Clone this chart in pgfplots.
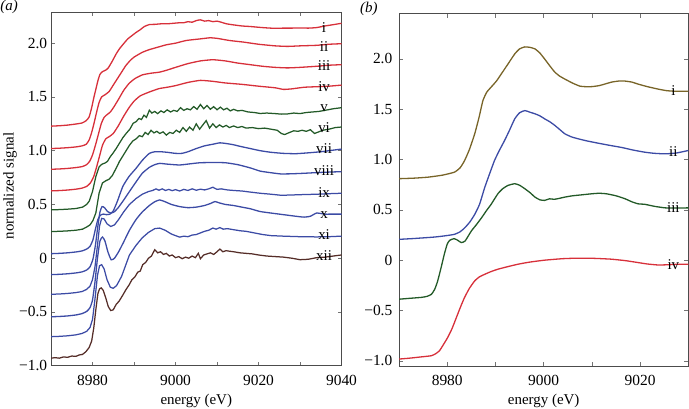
\documentclass[border=0pt]{standalone}
\usepackage{pgfplots}
\pgfplotsset{compat=1.18}
\usepackage{fontspec}
\setmainfont{Liberation Serif}
\definecolor{cred}{RGB}{215,48,58}
\definecolor{cgreen}{RGB}{35,90,40}
\definecolor{cblue}{RGB}{60,75,165}
\definecolor{cbrown}{RGB}{85,45,40}
\definecolor{colive}{RGB}{120,100,40}
\pgfplotsset{
  myaxis/.style={
    scale only axis,
    anchor=south west,
    tick align=inside, xtick pos=both, ytick pos=both,
    major tick length=4bp, minor tick length=4bp,
    axis line style={draw=black!70, line width=0.6bp},
    every tick/.style={draw=black!55, line width=0.5bp},
    tick label style={font=\fontsize{15.5}{18}\selectfont},
    label style={font=\fontsize{15}{18}\selectfont},
    xticklabel style={anchor=base, inner sep=0pt},
    yticklabel style={anchor=east, inner sep=0pt},
    ytick={-1,-0.5,0,0.5,1,1.5,2},
    yticklabels={−1.0,−0.5,0,0.5,1.0,1.5,2.0},
    xlabel={energy (eV)},
    clip=true,
  },
  cl/.style={line width=1.3bp, smooth, tension=0.3},
  nl/.style={line width=1.25bp},
}
\begin{document}
\begin{tikzpicture}[x=1bp,y=1bp]
\useasboundingbox (0,0) rectangle (689,408);
% ---------------- panel (a)
\begin{axis}[myaxis,
  at={(51bp,42.3bp)}, width=290.5bp, height=353.7bp,
  xmin=8970, xmax=9040, ymin=-1, ymax=2.29,
  xtick={8980,9000,9020,9040}, xticklabels={8980,9000,9020,9040},
  minor xtick={8990,9010,9030},
  xticklabel style={yshift=-20bp},
  yticklabel style={xshift=-3.7bp},
  ylabel={normalized signal},
  xlabel style={at={(axis description cs:0.5,-0.1083)}, anchor=base, inner sep=0pt},
  ylabel style={at={(axis description cs:-0.129,0.508)}, anchor=base, inner sep=0pt},
]
% i
\addplot[cred,cl] coordinates {(8970,1.228) (8972,1.232) (8974,1.238) (8976,1.248) (8977.5,1.258) (8978.5,1.28) (8979.2,1.315) (8979.8,1.40) (8980.3,1.49) (8980.8,1.57) (8981.3,1.65) (8981.8,1.71) (8982.4,1.735) (8983.2,1.75) (8983.8,1.77) (8984.8,1.835) (8985.7,1.90) (8986.5,1.948) (8987.5,1.995) (8988.5,2.04) (8989.5,2.07) (8990.5,2.10) (8991.5,2.125) (8992.5,2.155) (8993.7,2.173) (8995,2.175) (8996.5,2.18) (8998,2.18) (8999.5,2.185) (9001,2.19) (9002,2.19) (9003,2.20) (9004,2.195) (9005,2.21) (9006,2.217) (9007,2.205) (9008,2.21) (9009,2.2) (9010,2.205) (9011,2.195) (9012.3,2.18) (9014,2.17) (9016,2.16) (9018,2.155) (9020,2.148) (9022,2.142) (9024,2.138) (9026,2.14) (9028,2.14) (9030,2.142) (9032,2.14) (9034,2.145) (9036,2.16) (9038,2.172) (9040,2.185)};
% ii
\addplot[cred,cl] coordinates {(8970,1.02) (8972,1.023) (8974,1.028) (8976,1.035) (8977.5,1.045) (8978.5,1.06) (8979.2,1.10) (8979.8,1.17) (8980.4,1.26) (8981,1.36) (8981.6,1.45) (8982.2,1.50) (8983,1.52) (8984,1.55) (8985,1.61) (8986,1.67) (8987,1.73) (8988,1.79) (8989,1.835) (8990,1.87) (8992,1.915) (8993.7,1.94) (8995.5,1.96) (8997.8,1.985) (9000,2.0) (9002.6,2.025) (9006,2.04) (9008.3,2.05) (9010,2.045) (9013,2.025) (9016.4,2.01) (9020,1.99) (9024,1.975) (9027,1.97) (9030,1.975) (9034,1.98) (9037,1.99) (9040,1.995)};
% iii
\addplot[cred,cl] coordinates {(8970,0.827) (8972,0.83) (8974,0.835) (8976,0.843) (8977.5,0.852) (8978.5,0.868) (8979.3,0.9) (8980,0.96) (8980.7,1.05) (8981.4,1.15) (8982.1,1.25) (8982.8,1.31) (8983.5,1.335) (8984.3,1.36) (8985.2,1.41) (8986.3,1.48) (8987.5,1.56) (8988.8,1.625) (8990.2,1.67) (8992,1.705) (8994,1.72) (8996.2,1.731) (8998,1.75) (9000,1.775) (9003,1.81) (9006,1.835) (9009,1.846) (9012,1.835) (9015,1.815) (9018,1.80) (9021,1.785) (9024,1.775) (9027,1.77) (9030,1.775) (9034,1.785) (9037,1.795) (9040,1.80)};
% iv
\addplot[cred,cl] coordinates {(8970,0.626) (8972,0.629) (8974,0.634) (8976,0.642) (8977.5,0.652) (8978.6,0.668) (8979.5,0.70) (8980.3,0.76) (8981,0.85) (8981.7,0.95) (8982.4,1.05) (8983.2,1.11) (8984,1.13) (8985,1.16) (8986.2,1.23) (8987.5,1.32) (8988.8,1.40) (8990,1.46) (8991.5,1.51) (8993.7,1.546) (8996,1.577) (8998,1.59) (9000,1.605) (9003,1.635) (9006,1.654) (9009,1.645) (9012,1.63) (9016,1.617) (9020,1.60) (9024,1.585) (9026,1.57) (9028,1.575) (9031,1.59) (9034,1.595) (9037,1.60) (9040,1.61)};
% v
\addplot[cgreen,nl] coordinates {(8970,0.45) (8972,0.452) (8974,0.456) (8976,0.462) (8977.6,0.475) (8978.6,0.50) (8979.2,0.53) (8980,0.62) (8980.8,0.758) (8981.6,0.85) (8982.3,0.875) (8983,0.885) (8983.6,0.90) (8984.3,0.945) (8985,0.98) (8985.7,1.02) (8986.5,1.07) (8987.3,1.12) (8988.1,1.16) (8989,1.2) (8989.8,1.255) (8990.5,1.27) (8991.2,1.30) (8991.8,1.29) (8992.4,1.33) (8993,1.31) (8993.7,1.376) (8994.3,1.35) (8995,1.365) (8995.7,1.345) (8996.5,1.37) (8997.2,1.355) (8998,1.38) (8998.8,1.36) (8999.6,1.375) (9000.4,1.365) (9001.2,1.40) (9002,1.375) (9002.8,1.39) (9003.6,1.38) (9004.4,1.41) (9005.2,1.385) (9006,1.43) (9006.8,1.39) (9007.6,1.42) (9008.4,1.385) (9009.2,1.41) (9010,1.38) (9010.8,1.405) (9011.6,1.38) (9012.4,1.395) (9013.2,1.37) (9014,1.385) (9015,1.37) (9016,1.375) (9017.5,1.36) (9019,1.355) (9020.4,1.346) (9022,1.35) (9024,1.345) (9025.5,1.34) (9027,1.342) (9028.5,1.35) (9030,1.345) (9031.5,1.355) (9033,1.36) (9034.5,1.365) (9036,1.375) (9038,1.39) (9040,1.40)};
% vi
\addplot[cgreen,nl] coordinates {(8970,0.248) (8972,0.25) (8974,0.254) (8976,0.26) (8977.6,0.27) (8978.6,0.29) (8979.4,0.31) (8980.1,0.35) (8980.8,0.42) (8981.6,0.607) (8982.4,0.70) (8983.2,0.72) (8984,0.735) (8984.8,0.77) (8985.6,0.83) (8986.5,0.9) (8987.3,0.95) (8988.1,1.0) (8988.9,1.05) (8989.7,1.09) (8990.5,1.11) (8991.3,1.14) (8992,1.13) (8992.7,1.17) (8993.4,1.15) (8994.1,1.19) (8994.8,1.165) (8995.5,1.18) (8996.2,1.16) (8997,1.175) (8997.8,1.145) (8998.6,1.17) (8999.4,1.16) (9000.2,1.19) (9001,1.17) (9001.8,1.215) (9002.6,1.18) (9003.4,1.22) (9004.2,1.19) (9005,1.25) (9005.8,1.2) (9006.6,1.24) (9007.4,1.28) (9008.2,1.21) (9009,1.25) (9009.8,1.215) (9010.6,1.24) (9011.4,1.22) (9012.2,1.235) (9013,1.215) (9014,1.23) (9015,1.215) (9016,1.225) (9017,1.21) (9018.5,1.215) (9020,1.205) (9021.5,1.21) (9023,1.2) (9024.5,1.19) (9025.5,1.16) (9026.3,1.15) (9027.2,1.165) (9028.5,1.185) (9029.5,1.18) (9030.5,1.19) (9031.5,1.18) (9032.5,1.195) (9033.5,1.16) (9034.5,1.175) (9035.5,1.19) (9037,1.2) (9038.5,1.215) (9040,1.22)};
% vii
\addplot[cblue,cl] coordinates {(8970,0.042) (8972,0.045) (8974,0.05) (8976,0.058) (8977.5,0.068) (8978.6,0.085) (8979.4,0.11) (8980.1,0.17) (8980.7,0.27) (8981.3,0.36) (8981.9,0.40) (8982.6,0.41) (8983.4,0.405) (8984.2,0.41) (8985,0.44) (8986,0.53) (8987.3,0.667) (8988.8,0.76) (8990.5,0.836) (8992,0.91) (8993.7,0.975) (8995,0.99) (8996.5,0.99) (8998,0.985) (9000,0.975) (9001.5,0.975) (9003,0.99) (9005,1.02) (9007,1.045) (9009,1.06) (9010.7,1.073) (9012.5,1.065) (9014,1.055) (9015.6,1.04) (9018,1.02) (9020.4,1.0) (9023,0.985) (9026,0.975) (9029,0.972) (9032,0.98) (9035,0.99) (9038,1.005) (9040,1.015)};
% viii
\addplot[cblue,cl] coordinates {(8970,-0.153) (8972,-0.15) (8974,-0.145) (8976,-0.137) (8977.5,-0.127) (8978.6,-0.11) (8979.4,-0.08) (8980.1,-0.01) (8980.7,0.12) (8981.3,0.30) (8981.8,0.43) (8982.3,0.48) (8982.9,0.47) (8983.6,0.435) (8984.4,0.42) (8985.2,0.43) (8986.2,0.47) (8987.5,0.54) (8988.9,0.62) (8990.5,0.71) (8992,0.79) (8993.7,0.845) (8995,0.87) (8996.2,0.882) (8998,0.875) (9001,0.867) (9004,0.88) (9006,0.888) (9009,0.89) (9012,0.888) (9015,0.87) (9018,0.84) (9020.4,0.81) (9023,0.795) (9025.3,0.784) (9028,0.785) (9031,0.79) (9035,0.798) (9040,0.805)};
% ix
\addplot[cblue,nl] coordinates {(8970,-0.336) (8972,-0.333) (8974,-0.328) (8976,-0.32) (8977.5,-0.31) (8978.6,-0.29) (8979.4,-0.26) (8980,-0.2) (8980.6,-0.08) (8981.2,0.12) (8981.7,0.30) (8982.2,0.37) (8982.8,0.365) (8983.5,0.32) (8984.4,0.295) (8985.3,0.31) (8986.3,0.36) (8987.5,0.43) (8988.9,0.50) (8990.5,0.555) (8992,0.595) (8993.5,0.62) (8994.5,0.63) (8995.3,0.645) (8996,0.632) (8996.8,0.645) (8997.6,0.63) (8998.4,0.64) (8999.2,0.628) (9000,0.638) (9001,0.625) (9002,0.64) (9003,0.63) (9004,0.645) (9005,0.632) (9006,0.642) (9007,0.635) (9008,0.645) (9009,0.66) (9010,0.64) (9011,0.645) (9012.5,0.635) (9014,0.63) (9016,0.625) (9018,0.615) (9020.4,0.604) (9023,0.595) (9025.5,0.585) (9028,0.588) (9031,0.592) (9034,0.595) (9037,0.6) (9040,0.604)};
% x
\addplot[cblue,cl] coordinates {(8970,-0.545) (8972,-0.542) (8974,-0.537) (8976,-0.528) (8977.5,-0.515) (8978.6,-0.495) (8979.4,-0.46) (8980,-0.39) (8980.6,-0.22) (8981.2,0.0) (8981.8,0.16) (8982.4,0.197) (8983,0.16) (8983.7,0.06) (8984.5,-0.015) (8985.3,0.0) (8986.3,0.06) (8987.5,0.15) (8988.9,0.26) (8990.5,0.36) (8992,0.43) (8993.7,0.49) (8995,0.525) (8996.2,0.542) (8997.5,0.525) (8999,0.5) (9001,0.48) (9003,0.47) (9005,0.475) (9007,0.49) (9008.5,0.51) (9009.5,0.527) (9010.5,0.515) (9012,0.5) (9014,0.49) (9016,0.475) (9018,0.46) (9020.4,0.434) (9023,0.42) (9026,0.405) (9029,0.39) (9031,0.382) (9032.5,0.39) (9034,0.42) (9036,0.41) (9038,0.41) (9040,0.41)};
% xi
\addplot[cblue,nl] coordinates {(8970,-0.73) (8972,-0.727) (8974,-0.722) (8976,-0.713) (8977.5,-0.70) (8978.6,-0.68) (8979.4,-0.645) (8980,-0.57) (8980.6,-0.38) (8981.2,-0.16) (8981.7,-0.07) (8982.2,-0.06) (8982.8,-0.10) (8983.5,-0.2) (8984.3,-0.27) (8985,-0.28) (8985.8,-0.255) (8987,-0.17) (8988.9,0.03) (8990.5,0.12) (8992,0.19) (8993.5,0.24) (8995,0.275) (8996.2,0.28) (8997.5,0.26) (8999,0.225) (9000,0.21) (9001,0.196) (9002,0.205) (9003,0.2) (9004,0.215) (9005,0.22) (9006,0.235) (9007,0.25) (9008,0.26) (9009,0.28) (9009.8,0.27) (9010.7,0.285) (9011.5,0.27) (9012.5,0.275) (9014,0.265) (9015.6,0.255) (9017,0.25) (9019,0.235) (9021,0.22) (9023,0.21) (9026,0.205) (9030,0.2) (9034,0.198) (9037,0.2) (9040,0.205)};
% xii
\addplot[cbrown,nl] coordinates {(8970,-0.93) (8971,-0.925) (8972,-0.93) (8973,-0.918) (8974,-0.922) (8975,-0.91) (8976,-0.913) (8976.8,-0.9) (8977.6,-0.895) (8978.4,-0.87) (8979.2,-0.83) (8979.8,-0.77) (8980.3,-0.65) (8980.8,-0.48) (8981.3,-0.33) (8981.7,-0.285) (8982.1,-0.276) (8982.6,-0.3) (8983.2,-0.37) (8983.8,-0.45) (8984.4,-0.487) (8985,-0.48) (8985.7,-0.43) (8986.4,-0.40) (8987.2,-0.35) (8988.1,-0.29) (8988.8,-0.25) (8989.5,-0.2) (8990.2,-0.175) (8990.9,-0.13) (8991.5,-0.12) (8992.1,-0.06) (8992.8,-0.04) (8993.5,0.0) (8994.2,0.02) (8995,0.079) (8995.7,0.05) (8996.4,0.06) (8997.1,0.035) (8997.8,0.045) (8998.5,0.02) (8999.2,0.03) (9000,0.005) (9000.8,0.015) (9001.6,-0.005) (9002.4,0.01) (9003.2,0.0) (9004,0.02) (9004.8,0.005) (9005.5,0.045) (9006,-0.005) (9006.8,0.03) (9007.6,0.04) (9008.4,0.05) (9009.2,0.035) (9010,0.06) (9010.7,0.085) (9011.4,0.06) (9012.2,0.07) (9013,0.065) (9014,0.06) (9015.5,0.05) (9017,0.045) (9018.5,0.04) (9020,0.03) (9022,0.02) (9024,0.015) (9026,0.01) (9028,0.0) (9030,-0.014) (9032,-0.01) (9034,0.005) (9036,0.01) (9038,0.02) (9040,0.03)};
\begin{scope}[every node/.style={anchor=base, inner sep=0pt, font=\fontsize{15}{18}\selectfont}]
\node at (axis cs:9035.8,2.10) {i};
\node at (axis cs:9035.8,1.92) {ii};
\node at (axis cs:9035.8,1.75) {iii};
\node at (axis cs:9035.8,1.55) {iv};
\node at (axis cs:9035.8,1.36) {v};
\node at (axis cs:9035.8,1.17) {vi};
\node at (axis cs:9035.8,0.97) {vii};
\node at (axis cs:9035.8,0.77) {viii};
\node at (axis cs:9035.8,0.565) {ix};
\node at (axis cs:9035.8,0.365) {x};
\node at (axis cs:9035.8,0.17) {xi};
\node at (axis cs:9035.8,-0.025) {xii};
\end{scope}
\end{axis}
% ---------------- panel (b)
\begin{axis}[myaxis,
  at={(399bp,41.7bp)}, width=289.3bp, height=352.6bp,
  xmin=8970, xmax=9030, ymin=-1.055, ymax=2.45,
  xtick={8980,9000,9020}, xticklabels={8980,9000,9020},
  minor xtick={8990,9010},
  xticklabel style={yshift=-19.4bp},
  yticklabel style={xshift=-6.5bp},
  xlabel style={at={(axis description cs:0.5,-0.107)}, anchor=base, inner sep=0pt},
]
% i
\addplot[colive,cl] coordinates {(8970,0.81) (8973,0.815) (8976,0.825) (8979,0.845) (8981.5,0.875) (8982.7,0.92) (8983.6,0.99) (8984.6,1.1) (8985.7,1.256) (8986.6,1.42) (8987.4,1.586) (8988.2,1.67) (8989.1,1.72) (8990.2,1.78) (8991.2,1.85) (8992.6,1.95) (8994,2.05) (8995,2.10) (8996.1,2.12) (8997.2,2.115) (8998.2,2.10) (8999.2,2.06) (9000.2,2.0) (9001.3,1.93) (9002.3,1.87) (9003.3,1.83) (9004.4,1.80) (9006,1.76) (9007.5,1.73) (9008.5,1.725) (9010,1.725) (9011.5,1.735) (9013,1.755) (9014.1,1.77) (9015.5,1.78) (9016.9,1.78) (9018.3,1.77) (9019.6,1.75) (9021.5,1.725) (9023.8,1.70) (9025.5,1.685) (9027,1.68) (9030,1.68)};
% ii
\addplot[cblue,cl] coordinates {(8970,0.207) (8973,0.215) (8977.4,0.23) (8980,0.245) (8981.5,0.257) (8982.6,0.28) (8983.6,0.32) (8984.7,0.38) (8985.7,0.455) (8986.7,0.555) (8987.8,0.726) (8988.8,0.86) (8989.8,0.99) (8990.8,1.09) (8991.9,1.19) (8993,1.30) (8994,1.405) (8995,1.465) (8996.1,1.487) (8997.2,1.47) (8998.2,1.455) (8999.2,1.435) (9000.2,1.405) (9001.3,1.375) (9002.3,1.34) (9003.3,1.30) (9004.4,1.256) (9005.8,1.225) (9007.2,1.206) (9009,1.185) (9011.3,1.163) (9013.5,1.143) (9016.2,1.12) (9018.5,1.095) (9021,1.073) (9023,1.062) (9025.2,1.057) (9027.5,1.065) (9030,1.09)};
% iii
\addplot[cgreen,cl] coordinates {(8970,-0.388) (8972,-0.38) (8974.6,-0.37) (8975.8,-0.36) (8976.7,-0.34) (8977.4,-0.29) (8978,-0.21) (8978.7,-0.08) (8979.4,0.06) (8980,0.16) (8980.5,0.197) (8981.4,0.214) (8982.1,0.2) (8982.9,0.175) (8983.7,0.19) (8985,0.29) (8986,0.35) (8987.1,0.42) (8988.1,0.49) (8989.1,0.555) (8990.5,0.66) (8991.5,0.71) (8992.6,0.743) (8994,0.76) (8995,0.745) (8996.1,0.71) (8997.2,0.67) (8998.2,0.627) (8999.2,0.6) (9000.2,0.594) (9001.2,0.61) (9002.2,0.605) (9003.3,0.615) (9004.4,0.627) (9006,0.64) (9008,0.65) (9010,0.66) (9011.5,0.665) (9013,0.66) (9015,0.64) (9016.9,0.61) (9018.3,0.58) (9019.6,0.56) (9021,0.555) (9023,0.535) (9025.2,0.52) (9027.5,0.518) (9030,0.52)};
% iv
\addplot[cred,cl] coordinates {(8970,-0.983) (8972,-0.975) (8974.5,-0.962) (8976.7,-0.95) (8977.6,-0.93) (8978.4,-0.90) (8979.2,-0.84) (8980.1,-0.768) (8981,-0.68) (8981.9,-0.57) (8982.8,-0.46) (8983.6,-0.37) (8984.6,-0.28) (8985.7,-0.206) (8986.7,-0.165) (8987.8,-0.14) (8989,-0.115) (8990.5,-0.09) (8992.5,-0.065) (8994.7,-0.04) (8997,-0.02) (9000.2,0.0) (9004,0.015) (9007.2,0.02) (9010.5,0.018) (9014,0.01) (9017,-0.005) (9019.6,-0.024) (9021.5,-0.038) (9023.8,-0.048) (9026,-0.045) (9028,-0.04) (9030,-0.04)};
\begin{scope}[every node/.style={anchor=base, inner sep=0pt, font=\fontsize{15}{18}\selectfont}]
\node at (axis cs:9026.9,1.636) {i};
\node at (axis cs:9026.9,1.031) {ii};
\node at (axis cs:9026.9,0.472) {iii};
\node at (axis cs:9026.9,-0.09) {iv};
\end{scope}
\end{axis}
\node[anchor=base west, inner sep=0pt, font=\fontsize{15}{18}\selectfont] at (0.3,397.4) {\textit{(a)}};
\node[anchor=base west, inner sep=0pt, font=\fontsize{15}{18}\selectfont] at (360,395.7) {\textit{(b)}};
\end{tikzpicture}
\end{document}
